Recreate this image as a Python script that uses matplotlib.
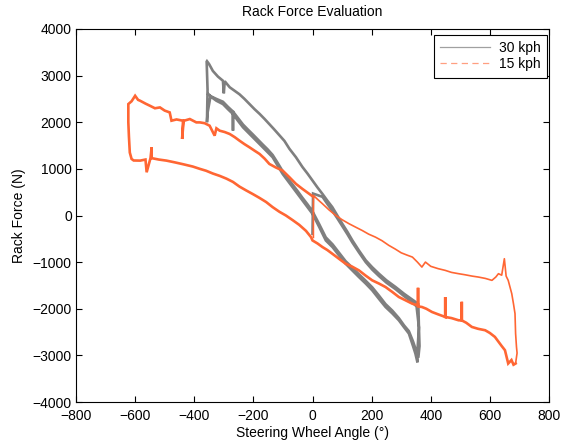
import matplotlib

matplotlib.use('Agg')
import matplotlib.pyplot as plt
from matplotlib.lines import Line2D

plt.rcParams['font.family'] = ['Liberation Sans', 'DejaVu Sans']

# ---- 15 kph (orange), one continuous loop ----
kph15_x = [3, 3,
           20, 34, 56, 79, 100, 124, 146, 168, 190, 213, 235, 258, 280, 300,
           320, 338, 355, 370, 382, 400, 425, 449, 470, 494, 515, 540, 561,
           585, 607, 620, 629, 640, 649, 655, 662, 674, 680, 685, 687, 690,
           692, 687,
           680, 673, 662, 651, 640, 617, 600, 584, 560, 539, 520, 505, 505,
           505, 494, 470, 449, 449, 449, 425, 404, 385, 370, 357, 357, 357,
           337, 315, 292, 270, 247, 225, 202, 180, 157, 135, 112, 90, 67, 50,
           34, 17, 0,
           -5, -22, -45, -67, -90, -112, -135, -157, -180, -202, -225, -247,
           -269, -291, -314, -337, -360, -381, -405, -438, -466, -494, -520,
           -544, -544, -548, -561, -565, -583, -605, -612, -618, -621, -623,
           -623,
           -612, -600, -590, -583, -565, -550, -533, -516, -500, -483, -477,
           -460, -438, -441, -436, -415, -393, -381, -365, -348, -331, -325,
           -314, -297, -280, -263, -247, -230, -213, -196, -179, -162, -146,
           -124, -101, -78, -56, -34, -11, 3]
kph15_y = [-470, 430,
           330, 250, 120, 0, -90, -178, -250, -321, -400, -464, -540, -640,
           -720, -800, -850, -892, -1000, -1106, -999, -1090, -1140, -1177,
           -1220, -1248, -1270, -1300, -1320, -1350, -1391, -1320, -1248,
           -1280, -927, -1300, -1391, -1676, -1900, -2104, -2532, -2818,
           -2950, -3174,
           -3200, -3100, -3174, -2889, -2800, -2604, -2520, -2461, -2430,
           -2390, -2300, -2250, -1850, -2250, -2247, -2200, -2176, -1750,
           -2176, -2120, -2069, -2000, -1962, -1950, -1550, -1930, -1890,
           -1820, -1748, -1640, -1534, -1460, -1391, -1290, -1177, -1100,
           -1034, -930, -820, -740, -678, -600, -535,
           -464, -330, -200, -100, 0, 80, 180, 290, 380, 460, 540, 620, 720,
           790, 850, 900, 960, 1000, 1050, 1100, 1140, 1177, 1200, 1230,
           1462, 1230, 927, 1200, 1177, 1180, 1213, 1350, 1700, 2000, 2390,
           2450, 2568, 2480, 2461, 2400, 2354, 2300, 2318, 2250, 2211, 2033,
           2060, 2033, 1641, 2030, 2069, 1997, 1997, 1980, 1926, 1712, 1870,
           1819, 1790, 1748, 1680, 1605, 1530, 1462, 1390, 1320, 1220, 1106,
           1030, 963, 820, 678, 570, 464, 400]

# ---- 30 kph (gray), two passes round the loop ----
kph30_x = [0, 2,
           34, 50, 67, 84, 101, 118, 135, 157, 180, 202, 225, 250, 281, 310,
           337, 352, 360, 362, 358,
           348, 340, 326, 310, 292, 270, 247, 225, 202, 180, 157, 135, 112,
           90, 68, 45, 23, 0, -17, -34, -50, -67, -84, -101, -118, -135, -152,
           -168, -185, -202, -218, -235, -252, -269, -269, -269, -286, -303,
           -325, -345, -355, -357, -355, -358,
           -357, -350, -337, -320, -303, -300, -297, -280, -247, -230, -213,
           -196, -179, -162, -146, -130, -112, -95, -78, -56, -34, -17, 0, 17,
           34, 50, 67, 84, 101, 118, 135, 157, 180, 202, 225, 250, 281, 310,
           337, 350, 358, 360, 356, 355,
           348, 340, 326, 310, 292, 270, 247, 225, 202, 180, 157, 135, 112,
           90, 68, 45, 23, 0, -17, -34, -50, -67, -84, -101, -118, -135, -152,
           -168, -185, -202, -218, -235, -252, -269, -286, -303, -315, -325,
           -340, -352]
kph30_y = [-390, 470,
           400, 250, 100, -60, -230, -400, -580, -790, -1000, -1160, -1300,
           -1440, -1580, -1730, -1860, -1950, -2400, -2800, -3050,
           -2850, -2700, -2480, -2360, -2200, -2040, -1900, -1720, -1540,
           -1400, -1260, -1120, -980, -800, -620, -470, -190, 90, 240, 380,
           520, 660, 800, 950, 1130, 1300, 1420, 1520, 1630, 1740, 1840, 1950,
           2090, 2230, 1820, 2230, 2330, 2440, 2500, 2560, 2200, 2000, 2700,
           3300,
           3310, 3250, 3100, 2980, 2890, 2620, 2880, 2750, 2600, 2500, 2390,
           2280, 2180, 2070, 1960, 1850, 1720, 1600, 1430, 1250, 1040, 900,
           750, 600, 460, 320, 180, 0, -180, -350, -535, -750, -960, -1110,
           -1250, -1390, -1534, -1680, -1800, -1860, -1900, -2400, -2800,
           -3150,
           -2960, -2800, -2532, -2400, -2247, -2100, -1962, -1790, -1605,
           -1460, -1320, -1180, -1034, -860, -680, -535, -250, 36, 180, 321,
           460, 606, 750, 892, 1070, 1250, 1360, 1462, 1570, 1676, 1780,
           1890, 2030, 2176, 2280, 2390, 2430, 2461, 2530, 2604]

x_ticks = [-800, -600, -400, -200, 0, 200, 400, 600, 800]
y_ticks = [-4000, -3000, -2000, -1000, 0, 1000, 2000, 3000, 4000]

gray = '#7f7f7f'
orange = '#ff6633'

fig = plt.figure(figsize=(5.64, 4.43), dpi=100)
ax = fig.add_axes([76 / 564, 41 / 443, 473 / 564, 373 / 443])

ax.plot(kph30_x, kph30_y, color=gray, lw=1.9, solid_joinstyle='miter')
# upper-right run of the 15 kph trace is sparser/thinner in the original
ax.plot(kph15_x[:45], kph15_y[:45], color=orange, lw=1.2)
ax.plot(kph15_x[43:], kph15_y[43:], color=orange, lw=1.9,
        solid_joinstyle='miter')

ax.set_xlim(-800, 800)
ax.set_ylim(-4000, 4000)
ax.set_xticks(x_ticks)
ax.set_yticks(y_ticks)
ax.tick_params(axis='both', direction='in', top=True, right=True, length=4,
               width=0.8, labelsize=10)
ax.tick_params(axis='x', pad=5)
ax.tick_params(axis='y', pad=3)
for s in ax.spines.values():
    s.set_linewidth(0.8)

ax.set_title('Rack Force Evaluation', fontsize=10, pad=9)
ax.set_xlabel('Steering Wheel Angle (°)', fontsize=10, labelpad=2)
ax.set_ylabel('Rack Force (N)', fontsize=10, labelpad=5)

handles = [Line2D([], [], color='#a0a0a0', lw=0.9),
           Line2D([], [], color='#ff9f80', lw=0.9, ls=(0, (5, 3.5)))]
leg = ax.legend(handles, ['30 kph', '15 kph'], loc='upper right',
                bbox_to_anchor=(0.995, 0.984), borderaxespad=0,
                fontsize=10, fancybox=False, framealpha=1, edgecolor='black',
                handlelength=3.6, labelspacing=0.15, handletextpad=0.6,
                borderpad=0.45)
leg.get_frame().set_linewidth(0.8)

fig.savefig('out.png', dpi=100)
